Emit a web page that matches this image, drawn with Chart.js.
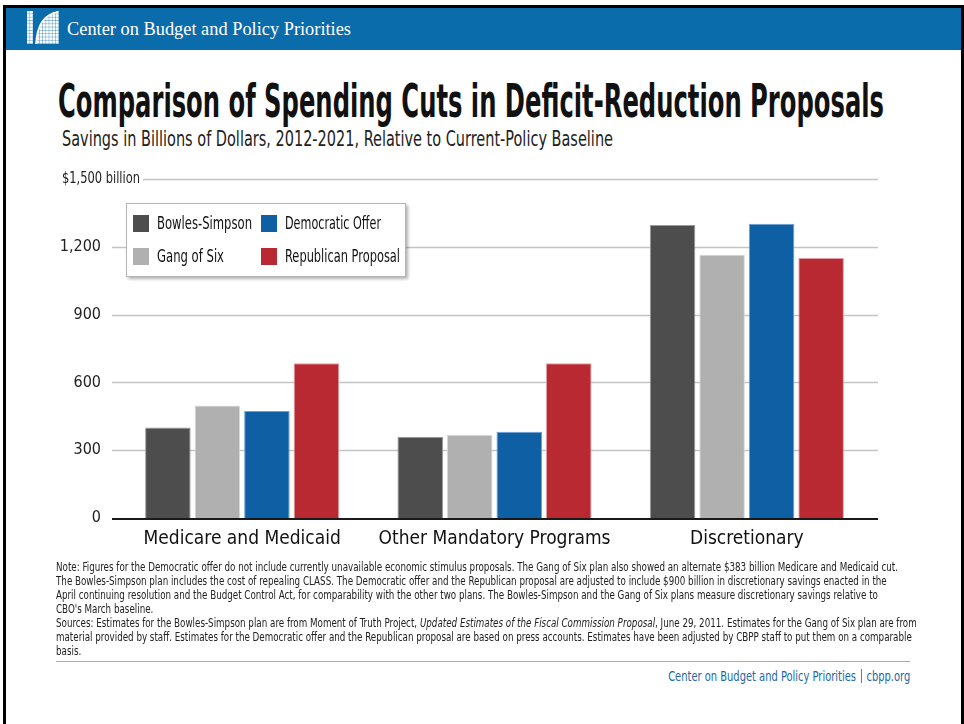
<!DOCTYPE html>
<html><head><meta charset="utf-8">
<script src="https://cdn.jsdelivr.net/npm/chart.js@4/dist/chart.umd.min.js"></script>
<style>
body{margin:0;width:964px;height:724px;position:relative;background:#fff;overflow:hidden;font-family:"Liberation Sans Narrow","Arial Narrow","DejaVu Sans Condensed","Roboto Condensed",sans-serif;}
.abs{position:absolute;white-space:nowrap;}
.fit{display:inline-block;transform-origin:left center;}
#notes div{height:14px;line-height:14px;}
</style></head>
<body>
<div class="abs" style="left:3px;top:5px;width:955px;height:740px;border:3px solid #000;"></div>
<div class="abs" style="left:6px;top:8px;width:955px;height:42px;background:#0b6cab;"></div>
<svg class="abs" style="left:27px;top:11px" width="32" height="33" viewBox="0 0 32 33">
  <defs><pattern id="g" width="3.2" height="3.3" patternUnits="userSpaceOnUse"><rect width="3.2" height="3.3" fill="#fff"/><path d="M3.2 0V3.3M0 3.3H3.2" stroke="#0b6cab" stroke-width="0.7"/></pattern></defs>
  <rect width="32" height="33" fill="url(#g)"/>
  <path d="M6 0H31C17 3 10 14 9 33H6Z" fill="#0b6cab"/>
  <path d="M9 33C10 14 17 3 31 1" stroke="#fff" stroke-width="1.6" fill="none"/>
  <rect x="0" y="0" width="6" height="33" fill="url(#g)"/>
</svg>
<div class="abs" style="left:67px;top:18px;font-family:'Liberation Serif','DejaVu Serif',serif;font-size:19px;line-height:22px;color:#fff;"><span class="fit" data-w="284">Center on Budget and Policy Priorities</span></div>

<div class="abs" style="left:58px;top:78px;font-size:46px;line-height:46px;font-weight:bold;color:#111;"><span class="fit" data-w="826">Comparison of Spending Cuts in Deficit-Reduction Proposals</span></div>
<div class="abs" style="left:62px;top:129px;font-size:21px;line-height:21px;color:#222;"><span class="fit" data-w="551">Savings in Billions of Dollars, 2012-2021, Relative to Current-Policy Baseline</span></div>

<div class="abs" style="left:0;top:165px;width:964px;height:400px;"><canvas id="c" width="964" height="400" style="width:964px;height:400px"></canvas></div>

<div id="legend" class="abs" style="left:126px;top:203px;width:278px;height:72px;border:1px solid #b5b5b5;background:#fff;box-shadow:2px 2px 3px rgba(0,0,0,0.3);"></div>

<div id="notes" class="abs" style="left:56px;top:560px;font-size:12.5px;color:#222;transform-origin:left top;">
<div id="n1">Note: Figures for the Democratic offer do not include currently unavailable economic stimulus proposals. The Gang of Six plan also showed an alternate $383 billion Medicare and Medicaid cut.</div>
<div>The Bowles-Simpson plan includes the cost of repealing CLASS. The Democratic offer and the Republican proposal are adjusted to include $900 billion in discretionary savings enacted in the</div>
<div>April continuing resolution and the Budget Control Act, for comparability with the other two plans. The Bowles-Simpson and the Gang of Six plans measure discretionary savings relative to</div>
<div>CBO's March baseline.</div>
<div>Sources: Estimates for the Bowles-Simpson plan are from Moment of Truth Project, <i>Updated Estimates of the Fiscal Commission Proposal</i>, June 29, 2011. Estimates for the Gang of Six plan are from</div>
<div>material provided by staff. Estimates for the Democratic offer and the Republican proposal are based on press accounts. Estimates have been adjusted by CBPP staff to put them on a comparable</div>
<div>basis.</div>
</div>
<div class="abs" style="left:56px;top:661px;width:854px;height:0;border-top:1.5px solid #aaa;"></div>
<div class="abs" style="right:54px;top:668px;font-size:13.5px;line-height:16px;color:#2368a8;"><span class="fit" data-w="242" data-r="1">Center on Budget and Policy Priorities <span style="display:inline-block;width:1px;height:14px;background:#2368a8;vertical-align:-2px;margin:0 2px"></span> cbpp.org</span></div>

<script>
const categories = ['Medicare and Medicaid', 'Other Mandatory Programs', 'Discretionary'];
const seriesNames = ['Bowles-Simpson', 'Gang of Six', 'Democratic Offer', 'Republican Proposal'];
const bowlesSimpson = [400, 360, 1296];
const gangOfSix = [498, 368, 1165];
const democraticOffer = [473, 382, 1302];
const republicanProposal = [685, 685, 1150];
const yTicks = [0, 300, 600, 900, 1200, 1500];
const yTopLabel = '$1,500 billion';

const FONT = '"Liberation Sans Narrow","Arial Narrow","DejaVu Sans Condensed","Roboto Condensed",sans-serif';
const fills = ['#4d4d4d', '#b0b0b0', '#0e5fa4', '#b82932'];
const borders = ['#9a9a9a', '#d8d8d8', '#6f9fcf', '#e39aa0'];
const seriesValues = [bowlesSimpson, gangOfSix, democraticOffer, republicanProposal];

const gridPlugin = {
  id: 'customGrid',
  beforeDatasetsDraw(chart) {
    const {ctx, chartArea, scales: {y}} = chart;
    ctx.save();
    ctx.font = '16.5px ' + FONT;
    const rawW = ctx.measureText(yTopLabel).width;
    const topW = 78;
    yTicks.forEach(v => {
      if (v === 0) return;
      const py = Math.round(y.getPixelForValue(v)) + 0.5;
      let x0 = chartArea.left - 4;
      if (v === yTicks[yTicks.length - 1]) x0 = 62 + topW + 3;
      ctx.strokeStyle = '#c4c4c4';
      ctx.lineWidth = 1.3;
      ctx.beginPath(); ctx.moveTo(x0, py); ctx.lineTo(chartArea.right + 5, py); ctx.stroke();
    });
    ctx.fillStyle = '#222';
    ctx.textBaseline = 'middle';
    ctx.textAlign = 'left';
    ctx.translate(62, y.getPixelForValue(yTicks[yTicks.length - 1]));
    ctx.scale(topW / rawW, 1);
    ctx.fillText(yTopLabel, 0, 0);
    ctx.restore();
  },
  afterDatasetsDraw(chart) {
    const {ctx, chartArea, scales: {y}} = chart;
    const py = y.getPixelForValue(0) + 1;
    ctx.save();
    ctx.strokeStyle = '#1a1a1a';
    ctx.lineWidth = 2;
    ctx.beginPath(); ctx.moveTo(chartArea.left - 4, py); ctx.lineTo(chartArea.right + 5, py); ctx.stroke();
    ctx.restore();
  }
};

const chart = new Chart(document.getElementById('c'), {
  type: 'bar',
  data: {
    labels: categories,
    datasets: seriesNames.map((n, i) => ({
      label: n, data: seriesValues[i],
      backgroundColor: fills[i], borderColor: borders[i], borderWidth: 1,
      categoryPercentage: 0.785, barPercentage: 0.92
    }))
  },
  options: {
    responsive: false, animation: false, devicePixelRatio: 1,
    layout: {padding: {top: 14, right: 91, left: 0, bottom: 0}},
    plugins: {legend: {display: false}, tooltip: {enabled: false}},
    scales: {
      x: {
        grid: {display: false, drawTicks: false}, border: {display: false},
        ticks: {color: '#111', padding: 10, maxRotation: 0, minRotation: 0, autoSkip: false, font: {family: FONT, size: 19}},
        afterFit(s) { s.height = 47; s.paddingLeft = 0; s.paddingRight = 0; }
      },
      y: {
        min: 0, max: 1500,
        grid: {display: false, drawTicks: false}, border: {display: false},
        ticks: {
          stepSize: 300, color: '#222', padding: 15, font: {family: FONT, size: 16},
          callback: v => (v === yTicks[yTicks.length - 1] ? '' : v.toLocaleString('en-US'))
        },
        afterFit(s) { s.width = 116; s.paddingTop = 0; s.paddingBottom = 0; }
      }
    }
  },
  plugins: [gridPlugin]
});

// HTML legend built from the chart's datasets
const lg = document.getElementById('legend');
const pos = [[6, 11], [6, 44], [134, 11], [134, 44]];
chart.data.datasets.forEach((d, i) => {
  const [x, y] = pos[i];
  const sq = document.createElement('div');
  sq.className = 'abs';
  sq.style.cssText = `left:${x}px;top:${y}px;width:16px;height:17px;background:${d.backgroundColor};`;
  lg.appendChild(sq);
  const t = document.createElement('div');
  t.className = 'abs';
  t.style.cssText = `left:${x + 24}px;top:${y - 2}px;font-size:17px;line-height:21px;color:#111;`;
  const widths = [95, 67, 96, 115];
  t.innerHTML = `<span class="fit" data-w="${widths[i]}">${d.label}</span>`;
  lg.appendChild(t);
});

document.querySelectorAll('.fit').forEach(el => {
  const w = el.getBoundingClientRect().width;
  const t = +el.dataset.w;
  if (el.dataset.r) el.style.transformOrigin = 'right center';
  el.style.transform = `scaleX(${t / w})`;
});
const n1 = document.getElementById('n1');
const r = document.createRange(); r.selectNodeContents(n1);
const nw = r.getBoundingClientRect().width;
document.getElementById('notes').style.transform = `scaleX(${842 / nw})`;
</script>
</body></html>
